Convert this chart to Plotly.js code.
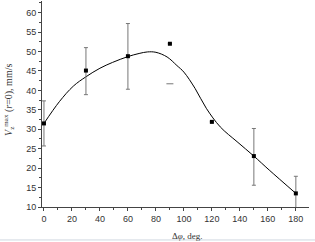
<!DOCTYPE html>
<html><head><meta charset="utf-8">
<script src="https://cdn.plot.ly/plotly-3.0.1.min.js"></script>
<style>html,body{margin:0;padding:0;background:#fff}#plot{width:315px;height:242px}</style>
</head><body><div id="plot"></div>
<script>
// Measured points
var angles = [0, 30, 60, 90, 120, 150, 180];
var values = [31.5, 45.1, 48.8, 52.0, 31.9, 23.1, 13.5];
var errPlus = [5.8, 5.9, 8.4, 0, 0, 7.1, 4.4];
var errMinus = [5.8, 6.2, 8.5, 0, 0, 7.5, 5.0];
// Lone lower error cap at 90 deg
var capAngle = [90];
var capValue = [41.7];
// Fitted curve
var fitAngle = [0, 11, 21, 30, 40, 49, 60, 68, 74, 80, 88, 95, 100, 108, 116, 126, 138, 150, 161, 180];
var fitValue = [31.5, 37.1, 41.1, 43.5, 45.7, 47.2, 48.7, 49.5, 49.9, 49.8, 48.6, 46.4, 44.7, 40.5, 35.4, 30.6, 26.8, 23.1, 19.5, 13.5];

var traces = [
  {x: fitAngle, y: fitValue, mode: 'lines', line: {color: '#000', width: 1, shape: 'spline', smoothing: 1}, hoverinfo: 'skip'},
  {x: angles, y: values, mode: 'markers', marker: {symbol: 'square', size: 4, color: '#000'},
   error_y: {type: 'data', symmetric: false, array: errPlus, arrayminus: errMinus, color: '#777', thickness: 1, width: 2}},
  {x: capAngle, y: capValue, mode: 'markers', marker: {symbol: 'line-ew', size: 5, line: {color: '#777', width: 1}}}
];

var axisFont = {family: 'Liberation Sans, Arial, sans-serif', size: 9, color: '#333'};
var layout = {
  width: 315, height: 242,
  margin: {l: 42, r: 6, t: 1, b: 35},
  showlegend: false,
  paper_bgcolor: '#fff', plot_bgcolor: '#fff',
  xaxis: {range: [-1.4, 189.4], tickvals: [0, 20, 40, 60, 80, 100, 120, 140, 160, 180],
    ticks: 'outside', ticklen: 3, tickcolor: '#444', showgrid: false, zeroline: false,
    showline: true, linecolor: '#444', linewidth: 1, tickfont: axisFont,
    minor: {dtick: 10, tick0: 0, ticks: 'outside', ticklen: 2, tickcolor: '#444', showgrid: false}},
  yaxis: {range: [10, 63], tickvals: [10, 15, 20, 25, 30, 35, 40, 45, 50, 55, 60],
    ticks: 'outside', ticklen: 3, tickcolor: '#444', showgrid: false, zeroline: false,
    showline: true, linecolor: '#444', linewidth: 1, tickfont: axisFont,
    minor: {dtick: 2.5, tick0: 10, ticks: 'outside', ticklen: 2, tickcolor: '#444', showgrid: false}},
  annotations: [
    {xref: 'paper', yref: 'paper', x: 0, y: 0.52, xanchor: 'center', yanchor: 'middle', showarrow: false,
     xshift: -33, textangle: -90,
     text: '<i>V</i><sub>z</sub><sup>max</sup> (<i>r</i>=0), mm/s',
     font: {family: 'Liberation Serif, Times New Roman, serif', size: 10, color: '#333'}},
    {xref: 'paper', yref: 'paper', x: 0.545, y: 0, xanchor: 'center', yanchor: 'top', showarrow: false,
     yshift: -22, text: 'Δ<i>φ</i>, deg.',
     font: {family: 'Liberation Serif, Times New Roman, serif', size: 9, color: '#333'}}
  ],
  shapes: [
    {type: 'line', xref: 'paper', yref: 'paper', x0: -0.2, x1: 1.1, y0: -0.16, y1: -0.16,
     line: {color: '#cfd7e0', width: 1}}
  ]
};
Plotly.newPlot('plot', traces, layout, {staticPlot: true, displayModeBar: false});
</script></body></html>
